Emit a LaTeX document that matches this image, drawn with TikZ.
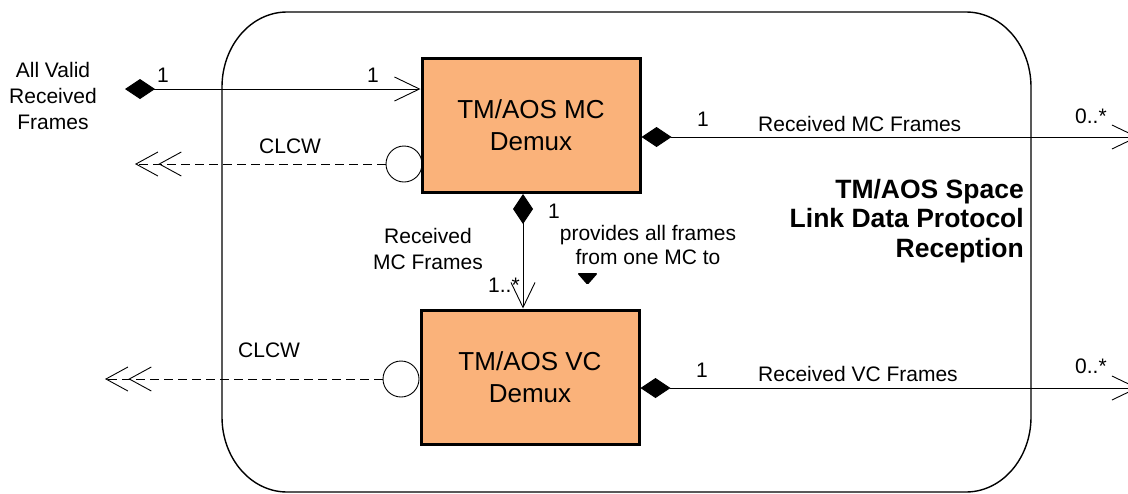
\documentclass[tikz,border=0pt]{standalone}
\usepackage{fontspec}
\setmainfont{Liberation Sans}
\usetikzlibrary{arrows.meta}
\definecolor{demuxfill}{RGB}{250,178,122}
\begin{document}
\begin{tikzpicture}[x=1pt,y=-1pt,
  lbl/.style={inner sep=0pt, font=\fontsize{21}{26}\selectfont},
  demux/.style={draw, line width=3pt, fill=demuxfill, minimum width=218pt, minimum height=134pt, inner sep=0pt, align=center, font=\fontsize{26}{32}\selectfont},
  lolli/.style={draw, circle, line width=0.9pt, minimum size=36pt, inner sep=0pt},
  clcw/.style={line width=0.9pt, dash pattern=on 9pt off 5pt, -{Straight Barb[length=22pt,width=24pt,sep=0pt]Straight Barb[length=22pt,width=24pt]}},
  assoc/.style={line width=0.9pt, {Diamond[length=30pt,width=20pt]}-{Straight Barb[length=25pt,width=24pt]}},
  titlefont/.style={inner sep=0pt, font=\bfseries\fontsize{26.5}{29.5}\selectfont}
]
\useasboundingbox (0,0) rectangle (1128,493);
% system boundary
\draw[line width=1.4pt] (222,87) arc[start angle=180,end angle=90,x radius=65pt,y radius=75pt]
  -- (966,12) arc[start angle=90,end angle=0,x radius=65pt,y radius=75pt]
  -- (1031,417) arc[start angle=0,end angle=-90,x radius=65pt,y radius=75pt]
  -- (287,492) arc[start angle=-90,end angle=-180,x radius=65pt,y radius=75pt] -- cycle;
% interface circles
\node[lolli] (cmc) at (404,164) {};
\node[lolli] (cvc) at (401,379) {};
% blocks
\node[demux] (mc) at (531,125.5) {TM/AOS MC\\Demux};
\node[demux] (vc) at (530,377) {TM/AOS VC\\Demux};
% free ends
\coordinate (inp) at (125,89);
\coordinate (out1) at (135,164);
\coordinate (out2) at (105,379);
\coordinate (mcout) at (1138,137);
\coordinate (vcout) at (1138,388);
\coordinate (vx) at (523,0);
% connectors
\draw[assoc] (inp) -- (mc.west |- inp);
\draw[assoc] (mc.east |- mcout) -- (mcout);
\draw[assoc] (vc.east |- vcout) -- (vcout);
\draw[assoc] (mc.south -| vx) -- (vc.north -| vx);
\draw[clcw] (cmc.west) -- (out1);
\draw[clcw] (cvc.west) -- (out2);
% labels
\node[lbl, anchor=north, align=center] (allvalid) at (53,62) {All Valid\\Received\\Frames};
\node[lbl, anchor=base west] (m1) at (157,82) {1};
\node[lbl, anchor=base west] (m2) at (367,82) {1};
\node[lbl, anchor=base west] (clcw1) at (259,153) {CLCW};
\node[lbl, anchor=base west] (clcw2) at (238,357) {CLCW};
\node[lbl, anchor=base west] (m3) at (697,126) {1};
\node[lbl, anchor=base west] (rmc) at (758,131) {Received MC Frames};
\node[lbl, anchor=base west] (m4) at (1075,123) {0..*};
\node[lbl, anchor=base west] (m5) at (696,377) {1};
\node[lbl, anchor=base west] (rvc) at (758,381) {Received VC Frames};
\node[lbl, anchor=base west] (m6) at (1075,373) {0..*};
\node[lbl, anchor=base west] (m7) at (548,218) {1};
\node[lbl, anchor=base west] (m8) at (488,292) {1..*};
\node[lbl, anchor=north, align=center] (rmc2) at (428,228) {Received\\MC Frames};
\node[lbl, anchor=north, align=center, font=\fontsize{21}{24}\selectfont] (prov) at (648,225) {provides all frames\\from one MC to};
\fill[rounded corners=1.5pt] (577,273) -- (598,273) -- (587.5,285) -- cycle;
\node[titlefont, anchor=north east, align=right] (title) at (1024,179) {TM/AOS Space\\Link Data Protocol\\Reception};
\end{tikzpicture}
\end{document}
